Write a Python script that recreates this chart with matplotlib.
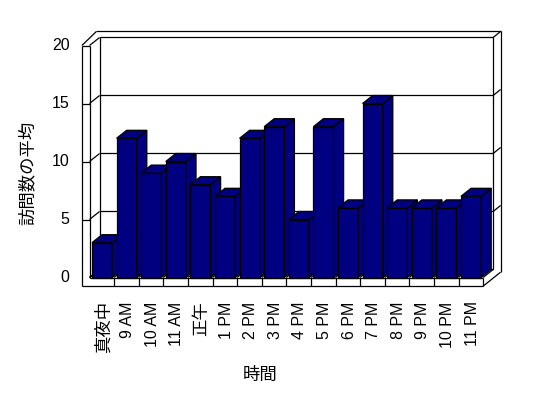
import matplotlib
matplotlib.use('Agg')
import matplotlib.pyplot as plt
from matplotlib.patches import Polygon, Rectangle

plt.rcParams['font.family'] = ['Liberation Sans', 'Noto Sans CJK JP']

# data
horas = ['真夜中', '9 AM', '10 AM', '11 AM', '正午', '1 PM', '2 PM', '3 PM',
         '4 PM', '5 PM', '6 PM', '7 PM', '8 PM', '9 PM', '10 PM', '11 PM']
visitas = [3, 12, 9, 10, 8, 7, 12, 13, 5, 13, 6, 15, 6, 6, 6, 7]
yticks = [0, 5, 10, 15, 20]

# geometria del "3D" falso (en unidades de datos)
n = len(horas)
ymax = 20
DX, DY = 0.41, 0.69      # profundidad
LW = 0.31                # grosor pared izquierda
FT = 0.75                # grosor del piso
BX, BY = 0.30, 0.52      # grosor pared del fondo
barw, baroff = 0.82, 0.10
azul = '#000080'
lw = 0.9

fig = plt.figure(figsize=(5.48, 3.98), dpi=100)
ax = fig.add_axes([0, 0, 1, 1])
ax.set_xlim(-89.5/24.6, (548-89.5)/24.6)
ax.set_ylim((277.5-398)/11.6, 277.5/11.6)
ax.axis('off')

def linea(xs, ys, z=1):
    ax.plot(xs, ys, color='black', lw=lw, zorder=z, solid_capstyle='butt')

# pared del fondo
ax.add_patch(Rectangle((DX, DY), n, ymax, fill=False, ec='black', lw=lw, zorder=1))
for v in yticks[1:-1]:
    linea([DX, n+DX], [v+DY, v+DY])
    linea([0, DX], [v, v+DY])
    linea([-LW, 0], [v, v])
    linea([n+DX, n+DX+BX], [v+DY, v+DY+BY])
linea([0, DX], [0, DY])
linea([0, DX], [ymax, ymax+DY])
linea([n+DX, n+DX+BX], [ymax+DY, ymax+DY+BY])
linea([-LW+0.59, n+DX+BX], [ymax+DY+BY, ymax+DY+BY])
linea([-LW, -LW+0.59], [ymax, ymax+DY+BY])
linea([n+DX+BX, n+DX+BX], [-FT+DY+BY, ymax+DY+BY])

# pared izquierda
linea([-LW, -LW], [-FT, ymax])
linea([0, 0], [0, ymax])
linea([-LW, 0], [ymax, ymax])

# piso
linea([-LW, n], [-FT, -FT])
linea([0, n], [0, 0])
linea([n, n], [-FT, 0])
for i in range(1, n):
    linea([i, i], [-FT, 0])
for i in range(0, n+1):
    linea([i, i+DX], [0, DY])
linea([n, n+DX+BX], [-FT, -FT+DY+BY])

# barras
for i, v in enumerate(visitas):
    xl = i + baroff
    xr = xl + barw
    z = 3 + i
    ax.bar(xl, v, width=barw, align='edge', color=azul, edgecolor='black',
           linewidth=lw, zorder=z)
    ax.add_patch(Polygon([(xr, 0), (xr+DX, DY), (xr+DX, v+DY), (xr, v)],
                         closed=True, fc=azul, ec='black', lw=lw, zorder=z))
    ax.add_patch(Polygon([(xl, v), (xr, v), (xr+DX, v+DY), (xl+DX, v+DY)],
                         closed=True, fc=azul, ec='black', lw=lw, zorder=z))

# textos
for v in yticks:
    ax.text(-0.81, v, str(v), ha='right', va='center', fontsize=11.5)
for i, h in enumerate(horas):
    fs = 12.5 if h in ('真夜中', '正午') else 11.5
    ax.text(i + 0.55, -2.05, h, ha='center', va='top', rotation=90, fontsize=fs)

fig.text(260/548, 1-375/398, '時間', ha='center', va='center', fontsize=12.5)
fig.text(27/548, 1-173/398, '訪問数の平均', ha='center', va='center',
         rotation=90, fontsize=12.5)

fig.savefig('out.png', dpi=100)
